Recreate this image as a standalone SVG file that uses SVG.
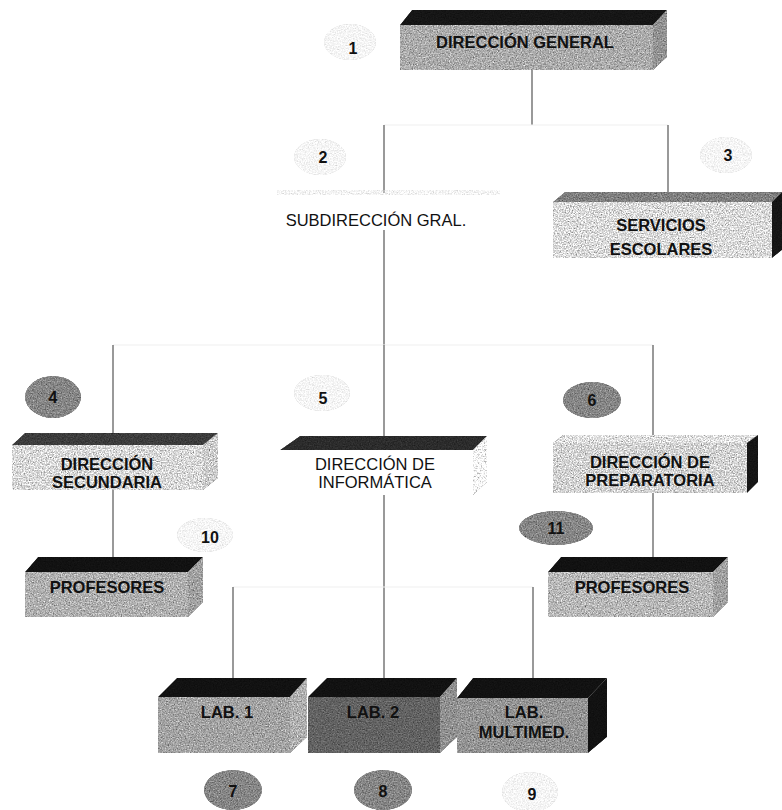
<svg xmlns="http://www.w3.org/2000/svg" width="782" height="810" viewBox="0 0 782 810">
<defs>
<filter id="grain" x="0" y="0" width="100%" height="100%" color-interpolation-filters="sRGB">
<feTurbulence type="fractalNoise" baseFrequency="0.75" numOctaves="3" seed="4" result="n"/>
<feColorMatrix in="n" type="matrix" values="0.33 0.33 0.33 0 0 0.33 0.33 0.33 0 0 0.33 0.33 0.33 0 0 0 0 0 0 1" result="g"/>
<feComposite in="SourceGraphic" in2="g" operator="arithmetic" k1="1.8" k2="0.15" k3="0" k4="0" result="c"/>
<feComposite in="c" in2="SourceGraphic" operator="in"/>
</filter>
<style>
.ln{stroke:#555;stroke-width:1.2;fill:none}
.fl{stroke:#efefef;stroke-width:1.2;fill:none}
.t{font-family:"Liberation Sans",Arial,sans-serif;font-size:16.5px;fill:#111;text-anchor:middle}
.b{font-weight:bold}
.n{font-family:"Liberation Sans",Arial,sans-serif;font-size:16px;font-weight:bold;fill:#111;text-anchor:middle}
.faint{fill:#d8d8d8}
.dk{fill:#808080}
</style>
</defs>
<rect width="782" height="810" fill="#fff"/>

<g id="connectors">
<line class="ln" x1="532" y1="70" x2="532" y2="125"/>
<line class="fl" x1="384" y1="125" x2="668" y2="125"/>
<line class="ln" x1="384" y1="125" x2="384" y2="193"/>
<line class="ln" x1="668" y1="125" x2="668" y2="192"/>
<line class="ln" x1="384" y1="230" x2="384" y2="345"/>
<line class="fl" x1="113" y1="345" x2="653" y2="345"/>
<line class="ln" x1="113" y1="345" x2="113" y2="433"/>
<line class="ln" x1="384" y1="345" x2="384" y2="436"/>
<line class="ln" x1="653" y1="345" x2="653" y2="435"/>
<line class="ln" x1="113" y1="490" x2="113" y2="557"/>
<line class="ln" x1="653" y1="493" x2="653" y2="557"/>
<line class="ln" x1="384" y1="495" x2="384" y2="678"/>
<line class="fl" x1="233" y1="587" x2="533" y2="587"/>
<line class="ln" x1="233" y1="587" x2="233" y2="678"/>
<line class="ln" x1="533" y1="587" x2="533" y2="678"/>
</g>

<g id="n1">
<g filter="url(#grain)">
<polygon points="400,25 412,10 667,10 653,25" fill="#151515"/>
<rect x="400" y="25" width="253" height="45" fill="#a4a4a4"/>
<polygon points="653,25 667,10 667,57 653,70" fill="#8c8c8c"/>
</g>
<text class="t b" x="525" y="48" font-size="17.5">DIRECCIÓN GENERAL</text>
</g>

<g id="n2">
<g opacity="0.4"><rect x="277" y="190" width="223" height="5" fill="#ddd" filter="url(#grain)"/></g>
<text class="t" x="376" y="226" font-size="17">SUBDIRECCIÓN GRAL.</text>
</g>

<g id="n3">
<g filter="url(#grain)">
<polygon points="553,202 565,192 782,192 772,202" fill="#7a7a7a"/>
<rect x="553" y="202" width="219" height="56" fill="#d2d2d2"/>
<polygon points="772,202 782,192 782,250 772,258" fill="#151515"/>
</g>
<text class="t b" x="661" y="231">SERVICIOS</text>
<text class="t b" x="661" y="255">ESCOLARES</text>
</g>

<g id="n4">
<g filter="url(#grain)">
<polygon points="12,445 25,433 218,433 203,445" fill="#3a3a3a"/>
<rect x="12" y="445" width="191" height="45" fill="#d0d0d0"/>
<polygon points="203,445 218,433 218,478 203,490" fill="#c4c4c4"/>
</g>
<text class="t b" x="107" y="470">DIRECCIÓN</text>
<text class="t b" x="107" y="488">SECUNDARIA</text>
</g>

<g id="n5">
<g filter="url(#grain)">
<polygon points="280,450 300,436 487,436 473,450" fill="#2a2a2a"/>
<polygon points="473,450 487,436 487,482 473,495" fill="#f0f0f0"/>
</g>
<text class="t" x="375" y="470">DIRECCIÓN DE</text>
<text class="t" x="375" y="488">INFORMÁTICA</text>
</g>

<g id="n6">
<g filter="url(#grain)">
<polygon points="553,443 563,435 758,435 747,443" fill="#d8d8d8"/>
<rect x="553" y="443" width="194" height="50" fill="#cacaca"/>
<polygon points="747,443 758,435 758,482 747,493" fill="#151515"/>
</g>
<text class="t b" x="650" y="468">DIRECCIÓN DE</text>
<text class="t b" x="650" y="486">PREPARATORIA</text>
</g>

<g id="n10">
<g filter="url(#grain)">
<polygon points="25,572 38,557 203,557 188,572" fill="#111"/>
<rect x="25" y="572" width="163" height="45" fill="#a8a8a8"/>
<polygon points="188,572 203,557 203,602 188,617" fill="#9a9a9a"/>
</g>
<text class="t b" x="107" y="593">PROFESORES</text>
</g>

<g id="n11">
<g filter="url(#grain)">
<polygon points="548,572 561,557 728,557 713,572" fill="#111"/>
<rect x="548" y="572" width="165" height="45" fill="#b0b0b0"/>
<polygon points="713,572 728,557 728,602 713,617" fill="#9a9a9a"/>
</g>
<text class="t b" x="632" y="593">PROFESORES</text>
</g>

<g id="n7">
<g filter="url(#grain)">
<polygon points="158,697 177,678 307,678 290,697" fill="#111"/>
<rect x="158" y="697" width="132" height="56" fill="#9c9c9c"/>
<polygon points="290,697 307,678 307,737 290,753" fill="#a8a8a8"/>
</g>
<text class="t b" x="227" y="718">LAB.  1</text>
</g>

<g id="n8">
<g filter="url(#grain)">
<polygon points="308,697 327,678 457,678 440,697" fill="#111"/>
<rect x="308" y="697" width="132" height="56" fill="#5e5e5e"/>
<polygon points="440,697 457,678 457,737 440,753" fill="#8a8a8a"/>
</g>
<text class="t b" x="373" y="718">LAB.  2</text>
</g>

<g id="n9">
<g filter="url(#grain)">
<polygon points="457,698 473,678 607,678 588,698" fill="#111"/>
<rect x="457" y="698" width="131" height="55" fill="#8e8e8e"/>
<polygon points="588,698 607,678 607,737 588,753" fill="#111"/>
</g>
<text class="t b" x="524" y="718">LAB.</text>
<text class="t b" x="524" y="738">MULTIMED.</text>
</g>

<g id="badges">
<g opacity="0.3">
<g filter="url(#grain)">
<ellipse cx="350" cy="42" rx="26" ry="18" class="faint"/>
<ellipse cx="320" cy="157" rx="26" ry="18" class="faint"/>
<ellipse cx="726" cy="155" rx="26" ry="18" class="faint"/>
<ellipse cx="322" cy="393" rx="28" ry="18" class="faint"/>
<ellipse cx="205" cy="535" rx="28" ry="17" class="faint"/>
<ellipse cx="530" cy="792" rx="28" ry="20" class="faint"/>
</g>
</g>
<g filter="url(#grain)">
<ellipse cx="53" cy="397" rx="28" ry="21" class="dk"/>
<ellipse cx="592" cy="400" rx="29" ry="18" class="dk"/>
<ellipse cx="556" cy="528" rx="37" ry="17" class="dk"/>
<ellipse cx="233" cy="790" rx="29" ry="20" class="dk"/>
<ellipse cx="383" cy="790" rx="29" ry="20" class="dk"/>
</g>
<text class="n" x="353" y="54">1</text>
<text class="n" x="323" y="163">2</text>
<text class="n" x="728" y="161">3</text>
<text class="n" x="53" y="403">4</text>
<text class="n" x="323" y="404">5</text>
<text class="n" x="592" y="406">6</text>
<text class="n" x="233" y="797">7</text>
<text class="n" x="383" y="797">8</text>
<text class="n" x="532" y="800">9</text>
<text class="n" x="210" y="543">10</text>
<text class="n" x="556" y="534">11</text>
</g>
</svg>
